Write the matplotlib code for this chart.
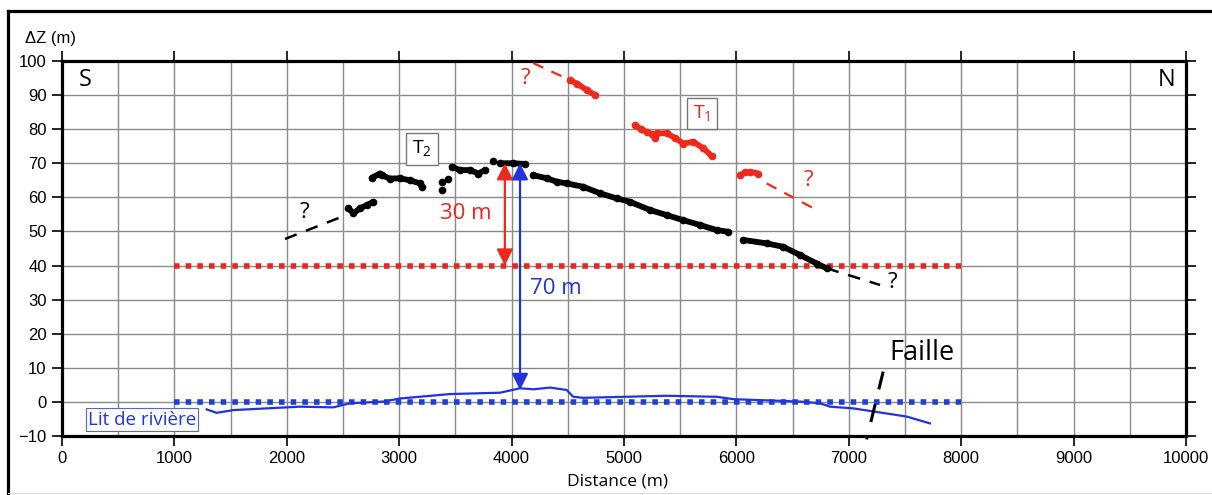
import matplotlib
matplotlib.use("Agg")
import matplotlib.pyplot as plt
from matplotlib.lines import Line2D

# ---------------- data ----------------
# T2 terrace (black points), several segments
t2_a_x = [2548, 2593, 2651, 2711, 2770]
t2_a_y = [56.8, 55.3, 56.8, 57.7, 58.7]
t2_b_x = [2755, 2829, 2844, 2918, 3007, 3096, 3185, 3200]
t2_b_y = [65.7, 67.0, 66.5, 65.5, 65.6, 65.0, 64.1, 63.1]
t2_iso_x = [3377, 3377, 3437, 3837]
t2_iso_y = [64.6, 62.1, 65.3, 70.7]
t2_c_x = [3467, 3541, 3630, 3704, 3763]
t2_c_y = [69.0, 68.0, 68.0, 67.0, 68.0]
t2_d_x = [3897, 4015, 4120]
t2_d_y = [70.0, 70.0, 69.8]
t2_e_x = [4194, 4312, 4401, 4490, 4638, 4786, 4935, 5053, 5231, 5380, 5528, 5676, 5825, 5928]
t2_e_y = [66.5, 65.6, 64.6, 64.1, 63.1, 61.2, 59.7, 58.7, 56.3, 54.8, 53.3, 51.9, 50.4, 49.9]
t2_f_x = [6062, 6269, 6417, 6566, 6714, 6803]
t2_f_y = [47.5, 46.5, 45.5, 43.1, 40.6, 39.2]
t2_dash_s_x = [1984, 2535]
t2_dash_s_y = [47.8, 54.9]
t2_dash_n_x = [6803, 7278]
t2_dash_n_y = [39.2, 34.3]

# T1 terrace (red points)
t1_a_x = [4520, 4579, 4668, 4742]
t1_a_y = [94.4, 93.4, 91.5, 90.0]
t1_b_x = [5098, 5150, 5202, 5250, 5276, 5291, 5380, 5450, 5528, 5617, 5706, 5780]
t1_b_y = [81.2, 80.0, 79.2, 78.5, 77.3, 78.8, 78.8, 77.5, 75.8, 76.3, 74.4, 72.1]
t1_c_x = [6032, 6080, 6121, 6195]
t1_c_y = [66.5, 67.3, 67.5, 67.0]
t1_dash_s_x = [4192, 4520]
t1_dash_s_y = [99.4, 94.4]
t1_dash_n_x = [6269, 6714]
t1_dash_n_y = [64.1, 56.3]

# river bed (blue line)
river_x = [1287, 1376, 1524, 1821, 2117, 2414, 2562, 2859, 3007, 3452, 3897, 4075,
           4193, 4342, 4490, 4548, 4638, 5380, 5825, 5973, 6566, 6744, 6833, 7040,
           7337, 7515, 7722]
river_y = [-2.2, -3.2, -2.4, -1.9, -1.4, -1.6, -0.4, 0.1, 1.0, 2.3, 2.7, 4.0,
           3.7, 4.2, 3.5, 1.5, 1.2, 1.8, 1.5, 0.8, 0.1, -0.4, -1.4, -1.9,
           -3.4, -4.3, -6.3]

# reference levels
ref_x = [1000, 8000]
red_level = [40, 40]
blue_level = [0, 0]

# fault
fault_x = [7306, 7158]
fault_y = [8.9, -11.0]

# arrows
arrow_red_x = 3940
arrow_red_y = (40, 70)
arrow_blue_x = 4075
arrow_blue_y = (3.5, 70)

x_ticks = list(range(0, 10001, 1000))
y_ticks = list(range(-10, 101, 10))

# ---------------- figure ----------------
plt.rcParams['font.family'] = ['Liberation Sans', 'DejaVu Sans']
plt.rcParams['mathtext.fontset'] = 'custom'
plt.rcParams['mathtext.rm'] = 'Open Sans'
ann_font = 'Open Sans'
tick_font = 'Liberation Sans'

fig = plt.figure(figsize=(12.12, 4.95), dpi=100)
ax = fig.add_axes([62 / 1212, 1 - 436 / 495, (1186 - 62) / 1212, (436 - 61) / 495])

ax.set_xlim(0, 10000)
ax.set_ylim(-10, 100)
ax.set_xticks(x_ticks)
ax.set_yticks(y_ticks)
ax.set_yticklabels(['\u221210' if v < 0 else str(v) for v in y_ticks])
ax.set_xticks(list(range(500, 10000, 1000)), minor=True)
ax.grid(True, which='both', color='#8a8a8a', lw=1.0)
ax.set_axisbelow(True)
ax.tick_params(which='major', direction='out', length=7, width=1.2,
               top=True, right=True, labeltop=False, labelright=False,
               labelsize=12, pad=4)
ax.tick_params(which='minor', length=0)
for s in ax.spines.values():
    s.set_linewidth(2.3)

fig.text(25 / 1212, 1 - 38 / 495, '\u0394Z (m)', fontsize=12, family=tick_font,
         ha='left', va='center')
fig.text((62 + 1186) / 2 / 1212 - 0.005, 1 - 482 / 495, 'Distance (m)', fontsize=12.5,
         family=ann_font, ha='center', va='center')

# reference levels
ax.plot(ref_x, red_level, color='#e8261f', lw=4, linestyle=(0, (1, 1.1)),
        dash_capstyle='butt', zorder=3)
ax.plot(ref_x, blue_level, color='#1f3fd6', lw=4, linestyle=(0, (1, 1.1)),
        dash_capstyle='butt', zorder=3)

# river
ax.plot(river_x, river_y, color='#2233dd', lw=1.6, zorder=4)

# T2
blk = dict(color='black', lw=4.2, solid_capstyle='round', solid_joinstyle='round',
           marker='o', ms=4.5, zorder=5)
for xs, ys in [(t2_a_x, t2_a_y), (t2_b_x, t2_b_y), (t2_c_x, t2_c_y),
               (t2_d_x, t2_d_y), (t2_e_x, t2_e_y), (t2_f_x, t2_f_y)]:
    ax.plot(xs, ys, **blk)
ax.plot(t2_iso_x, t2_iso_y, 'o', color='black', ms=4.5, zorder=5)
ax.plot(t2_dash_s_x, t2_dash_s_y, color='black', lw=1.8, dashes=(5, 4), zorder=5)
ax.plot(t2_dash_n_x, t2_dash_n_y, color='black', lw=1.8, dashes=(5, 4), zorder=5)

# T1
red = dict(color='#ee2a1c', lw=4.2, solid_capstyle='round', solid_joinstyle='round',
           marker='o', ms=4.5, zorder=5)
for xs, ys in [(t1_a_x, t1_a_y), (t1_b_x, t1_b_y), (t1_c_x, t1_c_y)]:
    ax.plot(xs, ys, **red)
ax.plot(t1_dash_s_x, t1_dash_s_y, color='#ee2a1c', lw=1.6, dashes=(5, 4), zorder=5)
ax.plot(t1_dash_n_x, t1_dash_n_y, color='#ee2a1c', lw=1.6, dashes=(5, 4), zorder=5)

# fault
ax.plot(fault_x, fault_y, color='black', lw=2.2, dashes=(6, 5), zorder=5, clip_on=False)

# arrows
ax.annotate('', xy=(arrow_red_x, arrow_red_y[0]), xytext=(arrow_red_x, arrow_red_y[1]),
            arrowprops=dict(arrowstyle='<|-|>,head_length=0.7,head_width=0.35',
                            color='#ee2a1c', lw=1.6,
                            mutation_scale=14, shrinkA=0, shrinkB=0), zorder=6)
ax.annotate('', xy=(arrow_blue_x, arrow_blue_y[0]), xytext=(arrow_blue_x, arrow_blue_y[1]),
            arrowprops=dict(arrowstyle='<|-|>,head_length=0.7,head_width=0.35',
                            color='#2233dd', lw=1.6,
                            mutation_scale=14, shrinkA=0, shrinkB=0), zorder=6)

# texts
ax.text(3594, 55.3, '30 m', color='#e8261f', fontsize=16, family=ann_font,
        ha='center', va='center')
ax.text(4395, 33.4, '70 m', color='#2233dd', fontsize=16, family=ann_font,
        ha='center', va='center')
ax.text(205, 94.4, 'S', fontsize=17, family=ann_font, ha='center', va='center')
ax.text(9830, 94.4, 'N', fontsize=17, family=ann_font, ha='center', va='center')
ax.text(7360, 14.3, 'Faille', fontsize=19.5, family=ann_font, ha='left', va='center')
ax.text(2160, 55.5, '?', fontsize=16, family=ann_font, ha='center', va='center')
ax.text(7385, 35.0, '?', fontsize=16, family=ann_font, ha='center', va='center')
ax.text(4120, 95.0, '?', fontsize=16, family=ann_font, color='#e8261f',
        ha='center', va='center')
ax.text(6640, 65.0, '?', fontsize=16, family=ann_font, color='#e8261f',
        ha='center', va='center')

box = dict(boxstyle='square,pad=0.3', fc='white', ec='#777777', lw=1)
ax.text(3203, 74.2, r'T$_\mathregular{2}$', fontsize=14, family=ann_font,
        ha='center', va='center', bbox=box, zorder=7)
ax.text(5694, 84.6, r'T$_\mathregular{1}$', fontsize=14, family=ann_font,
        color='#e8261f', ha='center', va='center', bbox=box, zorder=7)
ax.text(712, -5.2, 'Lit de rivi\u00e8re', fontsize=13.5, family=ann_font,
        color='#2233dd', ha='center', va='center', zorder=7,
        bbox=dict(boxstyle='square,pad=0.12', fc='white', ec='#5566cc', lw=0.8))

# outer frame
fig.add_artist(Line2D([8 / 1212, 1.0], [1 - 11 / 495, 1 - 11 / 495],
                      transform=fig.transFigure, color='black', lw=2.3))
fig.add_artist(Line2D([8 / 1212, 8 / 1212], [0.0, 1 - 11 / 495],
                      transform=fig.transFigure, color='black', lw=2.3))
fig.add_artist(Line2D([8 / 1212, 1.0], [2 / 495, 2 / 495],
                      transform=fig.transFigure, color='#dddddd', lw=0.8))

fig.savefig('out.png', dpi=100)
